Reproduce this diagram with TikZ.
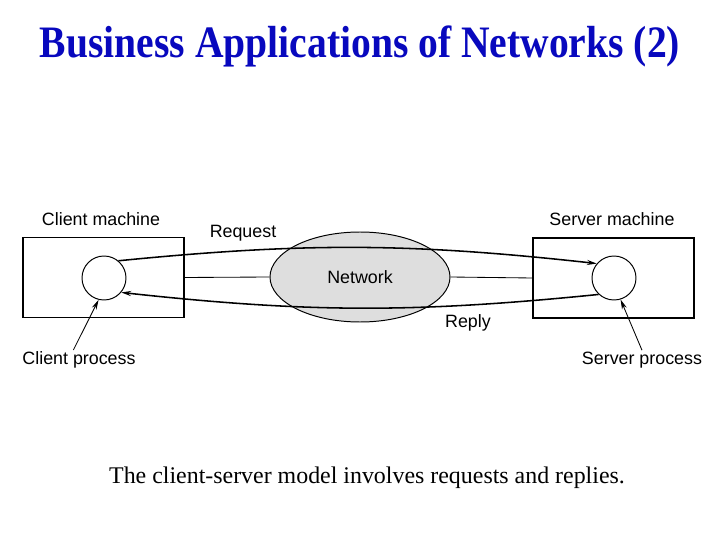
\documentclass[tikz,border=0pt]{standalone}
\usepackage{fontspec}
\setmainfont{Liberation Serif}
\newfontfamily\diagfont{Liberation Sans}
\usepackage{xcolor}
\definecolor{titleblue}{RGB}{8,8,190}
\definecolor{netgray}{RGB}{222,222,222}
\usetikzlibrary{arrows.meta,positioning,shapes.geometric}

\tikzset{
  machine/.style={draw, line width=0.9pt, minimum width=4.025cm, minimum height=2.0cm},
  process/.style={draw, circle, line width=0.7pt, minimum size=1.1cm, inner sep=0pt},
  lbl/.style={font=\diagfont\fontsize{12.7}{15}\selectfont, inner sep=1pt},
  msg/.style={-{Stealth[length=7pt,width=3.6pt]}, line width=1.1pt},
  pointer/.style={-{Stealth[length=7pt,width=3.6pt]}, line width=0.6pt}
}

\begin{document}
\begin{tikzpicture}
  \useasboundingbox (0,0) rectangle (18,13.5);
  % Title
  \node[text=titleblue, font=\fontsize{32}{36}\selectfont\bfseries] (title) at (9.0,12.35) {\scalebox{0.88}[1]{Business Applications of Networks (2)}};
  % Machines and processes
  \node[machine] (cmach) at (2.5875,6.5625) {};
  \node[machine] (smach) at (15.3375,6.55) {};
  \node[process] (client) at (2.6,6.55) {};
  \node[process] (server) at (15.35,6.55) {};
  % Network cloud
  \node[draw, ellipse, fill=netgray, line width=0.7pt, minimum width=4.5cm, minimum height=2.25cm, lbl] (net) at (9.0,6.575) {Network};
  \draw[line width=0.6pt] (cmach.east) -- (net.west);
  \draw[line width=0.6pt] (net.east) -- (smach.west);
  % Request and reply
  \draw[msg] (client.50) to[bend left=6] (server.140);
  \draw[msg] (server.-133) to[bend left=6] (client.-40);
  % Labels
  \node[lbl] (cmlabel) at (2.525,8.025) {Client machine};
  \node[lbl] (smlabel) at (15.3,8.025) {Server machine};
  \node[lbl] (req) at (6.075,7.675) {Request};
  \node[lbl] (rep) at (11.7,5.425) {Reply};
  \node[lbl] (cproc) at (1.975,4.5) {Client process};
  \node[lbl] (sproc) at (16.05,4.5) {Server process};
  \draw[pointer] ([xshift=-4pt]cproc.north) -- (client.-104);
  \draw[pointer] (sproc.north) -- (server.-73);
  % Caption
  \node[font=\fontsize{17}{20}\selectfont] (caption) at (9.175,1.55) {The client-server model involves requests and replies.};
\end{tikzpicture}
\end{document}
